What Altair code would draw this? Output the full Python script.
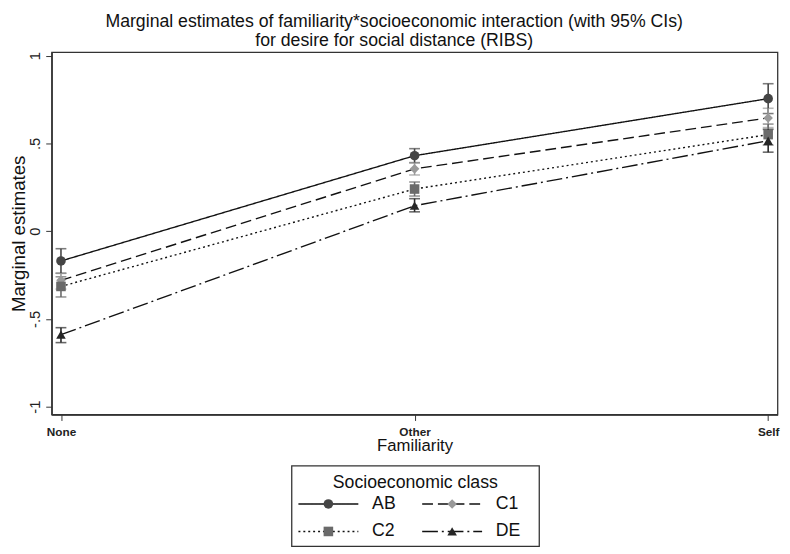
import altair as alt
import pandas as pd

familiarity = ["None", "Other", "Self"]
classes = ["AB", "C1", "C2", "DE"]

ab_est = [-0.17, 0.43, 0.755]
ab_lo = [-0.24, 0.39, 0.67]
ab_hi = [-0.10, 0.47, 0.84]

c1_est = [-0.28, 0.355, 0.645]
c1_lo = [-0.33, 0.32, 0.59]
c1_hi = [-0.24, 0.39, 0.70]

c2_est = [-0.315, 0.24, 0.55]
c2_lo = [-0.375, 0.20, 0.49]
c2_hi = [-0.26, 0.28, 0.61]

de_est = [-0.59, 0.145, 0.515]
de_lo = [-0.635, 0.11, 0.45]
de_hi = [-0.55, 0.185, 0.58]

series = {"AB": (ab_est, ab_lo, ab_hi), "C1": (c1_est, c1_lo, c1_hi),
          "C2": (c2_est, c2_lo, c2_hi), "DE": (de_est, de_lo, de_hi)}

rows = []
for cls in classes:
    e, l, h = series[cls]
    for f, ev, lv, hv in zip(familiarity, e, l, h):
        rows.append({"Familiarity": f, "cls": cls, "est": ev, "lo": lv, "hi": hv})
df = pd.DataFrame(rows)

FONT = "Liberation Sans"
marker_colors = ["#454545", "#9a9a9a", "#6a6a6a", "#262626"]
shapes = ["circle", "diamond", "square", "triangle-up"]
dashes = [[1, 0], [11, 5], [2, 3], [16, 4, 2, 4]]

color_scale = alt.Scale(domain=classes, range=marker_colors)
shape_scale = alt.Scale(domain=classes, range=shapes)
dash_scale = alt.Scale(domain=classes, range=dashes)

x_enc = alt.X("Familiarity:N", sort=familiarity,
              scale=alt.Scale(type="point", padding=0.0264),
              axis=alt.Axis(title="Familiarity", labelAngle=0, labelFontSize=12,
                            labelFontWeight="bold", labelColor="#222", labelPadding=6,
                            titleFontSize=17, titleFontWeight="normal", titlePadding=1,
                            tickSize=6, tickColor="#333", domainColor="#333",
                            domainWidth=1.5))
y_scale = alt.Scale(domain=[-1.045, 1.02], nice=False, zero=False)
y_axis = alt.Axis(title="Marginal estimates", values=[-1, -0.5, 0, 0.5, 1],
                  labelExpr="datum.value == 0 ? '0' : replace(toString(datum.value), '0.', '.')",
                  labelAngle=-90, labelAlign="center", labelBaseline="bottom",
                  labelFontSize=15, labelColor="#222", labelPadding=3,
                  titleFontSize=19, titleFontWeight="normal", titlePadding=0,
                  tickSize=6, tickColor="#333", domainColor="#333", domainWidth=1.5,
                  grid=False)

base = alt.Chart(df)

lines = base.mark_line(color="#111", strokeWidth=1.4).encode(
    x=x_enc,
    y=alt.Y("est:Q", scale=y_scale, axis=y_axis),
    strokeDash=alt.StrokeDash("cls:N", scale=dash_scale, legend=None),
    detail="cls:N",
)
bars = base.mark_errorbar(ticks=alt.MarkConfig(size=11), thickness=1.6).encode(
    x=alt.X("Familiarity:N", sort=familiarity),
    y=alt.Y("lo:Q", scale=y_scale, title="Marginal estimates"),
    y2="hi:Q",
    color=alt.Color("cls:N", scale=color_scale, legend=None),
)
points = base.mark_point(filled=True, size=95, opacity=1).encode(
    x=alt.X("Familiarity:N", sort=familiarity),
    y=alt.Y("est:Q", scale=y_scale),
    color=alt.Color("cls:N", scale=color_scale, legend=None),
    shape=alt.Shape("cls:N", scale=shape_scale, legend=None),
)

main = alt.layer(lines, bars, points).properties(width=739, height=369)

# Legend panel
leg_df = pd.DataFrame({"cls": classes, "idx": list(range(len(classes)))})
lx = alt.Scale(domain=[0, 252], nice=False, zero=False)
ly = alt.Scale(domain=[0, 82], nice=False, zero=False, reverse=True)
leg_base = alt.Chart(leg_df).transform_calculate(
    col="datum.idx % 2", row="floor(datum.idx / 2)"
).transform_calculate(
    x1="7 + datum.col * 126", x2="68 + datum.col * 126", xm="37.5 + datum.col * 126",
    xl="82 + datum.col * 126", yy="39 + datum.row * 28"
)
leg_lines = leg_base.mark_rule(color="#111", strokeWidth=1.4).encode(
    x=alt.X("x1:Q", scale=lx, axis=None), x2="x2:Q",
    y=alt.Y("yy:Q", scale=ly, axis=None),
    strokeDash=alt.StrokeDash("cls:N", scale=dash_scale, legend=None),
)
leg_pts = leg_base.mark_point(filled=True, size=95, opacity=1).encode(
    x=alt.X("xm:Q", scale=lx, axis=None),
    y=alt.Y("yy:Q", scale=ly, axis=None),
    color=alt.Color("cls:N", scale=color_scale, legend=None),
    shape=alt.Shape("cls:N", scale=shape_scale, legend=None),
)
leg_txt = leg_base.mark_text(align="left", baseline="middle", fontSize=18,
                             font=FONT, color="#111").encode(
    x=alt.X("xl:Q", scale=lx, axis=None),
    y=alt.Y("yy:Q", scale=ly, axis=None),
    text="cls:N",
)
leg_title = alt.Chart(pd.DataFrame({"t": ["Socioeconomic class"]})).mark_text(
    fontSize=18, font=FONT, color="#111", baseline="middle"
).encode(
    x=alt.value(126), y=alt.value(18), text="t:N"
)
legend = alt.layer(leg_title, leg_lines, leg_pts, leg_txt).properties(width=252, height=82)

chart = alt.vconcat(main, legend, spacing=10, center=True).properties(
    title=alt.TitleParams(
        ["Marginal estimates of familiarity*socioeconomic interaction (with 95% CIs)",
         "for desire for social distance (RIBS)"],
        fontSize=18, font=FONT, fontWeight="normal", color="#111", anchor="middle",
        lineHeight=19, offset=1),
    padding={"left": 0, "top": 0, "right": 2, "bottom": 0},
).configure(font=FONT).configure_view(stroke="#333", strokeWidth=1.3).configure_axis(
    labelFont=FONT, titleFont=FONT, titleColor="#111"
)

chart.save("out.html", embed_options={"renderer": "svg", "actions": False})
